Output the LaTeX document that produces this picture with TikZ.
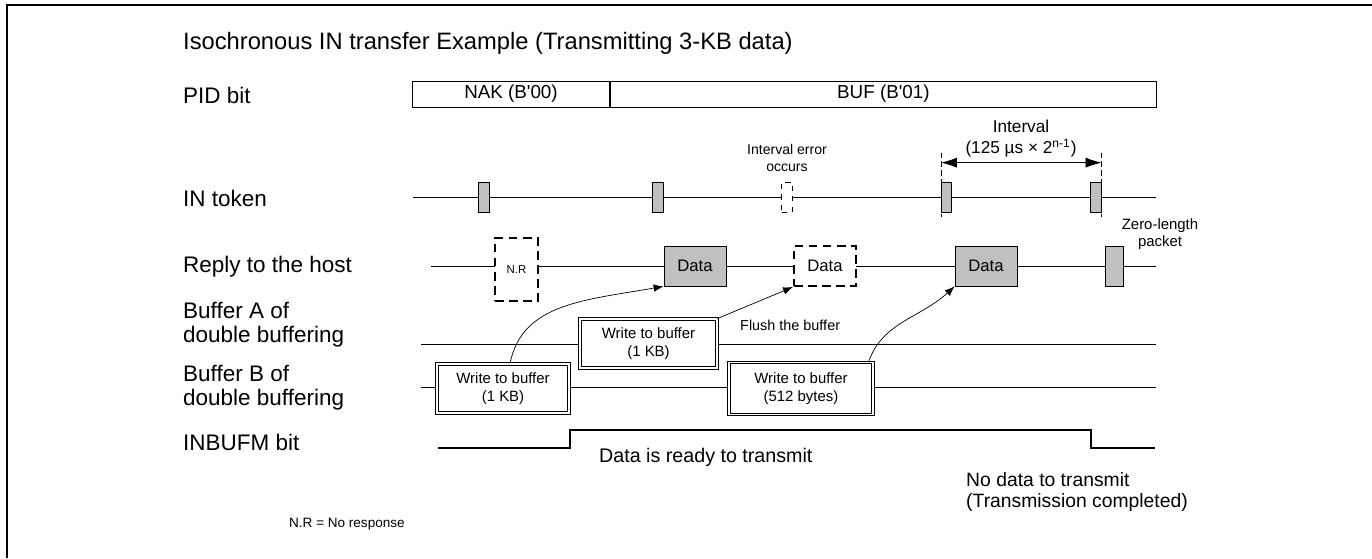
\documentclass[tikz,border=0pt]{standalone}
\usepackage{fontspec}
\setmainfont{Liberation Sans}
\usetikzlibrary{positioning}
\usetikzlibrary{arrows.meta}
\definecolor{pktgray}{RGB}{192,192,192}

\begin{document}
\begin{tikzpicture}[x=0.02cm,y=-0.02cm,node distance=0pt,
  rowlabel/.style={anchor=west,align=left,font=\fontsize{12.8}{13.5}\selectfont},
  pidbox/.style={draw,minimum height=0.52cm,inner sep=0pt,font=\fontsize{10.7}{12}\selectfont},
  token/.style={draw,fill=pktgray,minimum width=0.21cm,minimum height=0.6cm,inner sep=0pt},
  datapkt/.style={draw,fill=pktgray,minimum width=1.24cm,minimum height=0.8cm,inner sep=0pt,font=\fontsize{9.5}{11}\selectfont},
  lostpkt/.style={draw,fill=white,line width=1.1pt,dash pattern=on 5pt off 3pt,inner sep=0pt},
  wrbuf/.style={draw,double,line width=0.6pt,double distance=1pt,fill=white,align=center,inner sep=0pt,font=\fontsize{8.5}{10}\selectfont},
  smalltext/.style={align=center,font=\fontsize{8}{9.6}\selectfont},
  ivdash/.style={dash pattern=on 3pt off 2pt},
  ivarrow/.style={{Latex[length=0.32cm,width=0.2cm]}-{Latex[length=0.32cm,width=0.2cm]}},
  flow/.style={-{Latex[length=0.2cm,width=0.15cm]}},
  sig/.style={line width=0.8pt}
]
\useasboundingbox (0,0) rectangle (1372,558);
% frame
\draw[line width=1.2pt] (7,558) -- (7,5) -- (1372,5);

% row labels
\node[rowlabel,font=\fontsize{13.5}{16}\selectfont] (title) at (177,43) {Isochronous IN transfer Example (Transmitting 3-KB data)};
\node[rowlabel] (lpid) at (177,95) {PID bit};
\node[rowlabel] (ltok) at (177,198) {IN token};
\node[rowlabel] (lrep) at (177,267) {Reply to the host};
\node[rowlabel] (lbufa) at (177,325) {Buffer A of\\double buffering};
\node[rowlabel] (lbufb) at (177,388) {Buffer B of\\double buffering};
\node[rowlabel] (linb) at (177,442) {INBUFM bit};
\node[anchor=west,font=\fontsize{7.7}{9}\selectfont] (nrnote) at (283,524) {N.R = No response};

% PID bit
\node[pidbox,minimum width=3.95cm] (nak) at (511,94) {NAK (B\textquotesingle 00)};
\node[pidbox,minimum width=10.92cm,right=of nak] (buf) {BUF (B\textquotesingle 01)};

% IN token
\coordinate (tokstart) at (413,197);
\coordinate (tokend) at (1156,197);
\draw (tokstart) -- (tokend);
\node[token] (tok1) at (484,197) {};
\node[token] (tok2) at (658,197) {};
\node[token,fill=white,dashed] (tok3) at (787,197) {};
\node[token] (tok4) at (946.5,197) {};
\node[token] (tok5) at (1096,197) {};
\node[smalltext] (errtext) at (787,158) {Interval error\\occurs};

% interval
\draw[ivdash] ([yshift=0.58cm]tok4.north west) -- ([yshift=-0.1cm]tok4.south west);
\draw[ivdash] ([yshift=0.58cm]tok5.north east) -- ([yshift=-0.1cm]tok5.south east);
\draw[ivarrow] ([yshift=0.38cm]tok4.north west) -- ([yshift=0.38cm]tok5.north east);
\node[align=center,font=\fontsize{9.8}{12}\selectfont] (ivtext) at (1021,139) {Interval\\(125 µs × 2\textsuperscript{n-1})};

% reply to the host
\coordinate (repstart) at (431,266);
\coordinate (repend) at (1156,266);
\draw (repstart) -- (repend);
\node[lostpkt,minimum width=0.86cm,minimum height=1.26cm,font=\fontsize{6.5}{8}\selectfont] (nr) at (516.5,269.5) {N.R};
\node[datapkt] (data1) at (695,266) {Data};
\node[lostpkt,minimum width=1.24cm,minimum height=0.8cm,font=\fontsize{9.5}{11}\selectfont] (lost) at (825,266) {Data};
\node[datapkt] (data4) at (986,266) {Data};
\node[datapkt,minimum width=0.36cm] (zlp) at (1114,266) {};
\node[align=center,font=\fontsize{8.5}{10}\selectfont] (zlptext) at (1160,234) {Zero-length\\packet};

% buffers
\coordinate (bufastart) at (421,344);
\coordinate (bufaend) at (1156,344);
\coordinate (bufbstart) at (421,387);
\coordinate (bufbend) at (1156,387);
\draw (bufastart) -- (bufaend);
\draw (bufbstart) -- (bufbend);
\node[wrbuf,minimum width=2.74cm,minimum height=0.98cm] (wra) at (648.5,343.5) {Write to buffer\\(1 KB)};
\node[wrbuf,minimum width=2.64cm,minimum height=0.98cm] (wrb) at (503,388.5) {Write to buffer\\(1 KB)};
\node[wrbuf,minimum width=2.88cm,minimum height=1.04cm] (wrc) at (801,388.5) {Write to buffer\\(512 bytes)};
\node[anchor=west,font=\fontsize{8.2}{10}\selectfont] (flush) at (734,325) {Flush the buffer};

% write -> reply
\draw[flow] ([xshift=0.14cm]wrb.north) .. controls +(12,-60) and +(-80,14) .. (data1.south west);
\draw[flow] (wra.north east) -- (lost.south west);
\draw[flow] ([xshift=-0.1cm]wrc.north east) .. controls +(14,-40) and +(-35,32) .. (data4.south west);

% INBUFM bit
\draw[sig] (438,448) -- (570,448) -- (570,430) -- (1091,430) -- (1091,448) -- (1155,448);
\node[anchor=west,font=\fontsize{11.2}{13}\selectfont] (rdytext) at (593,457) {Data is ready to transmit};
\node[anchor=west,align=left,font=\fontsize{11}{12}\selectfont] (donetext) at (960,492) {No data to transmit\\(Transmission completed)};
\end{tikzpicture}
\end{document}
